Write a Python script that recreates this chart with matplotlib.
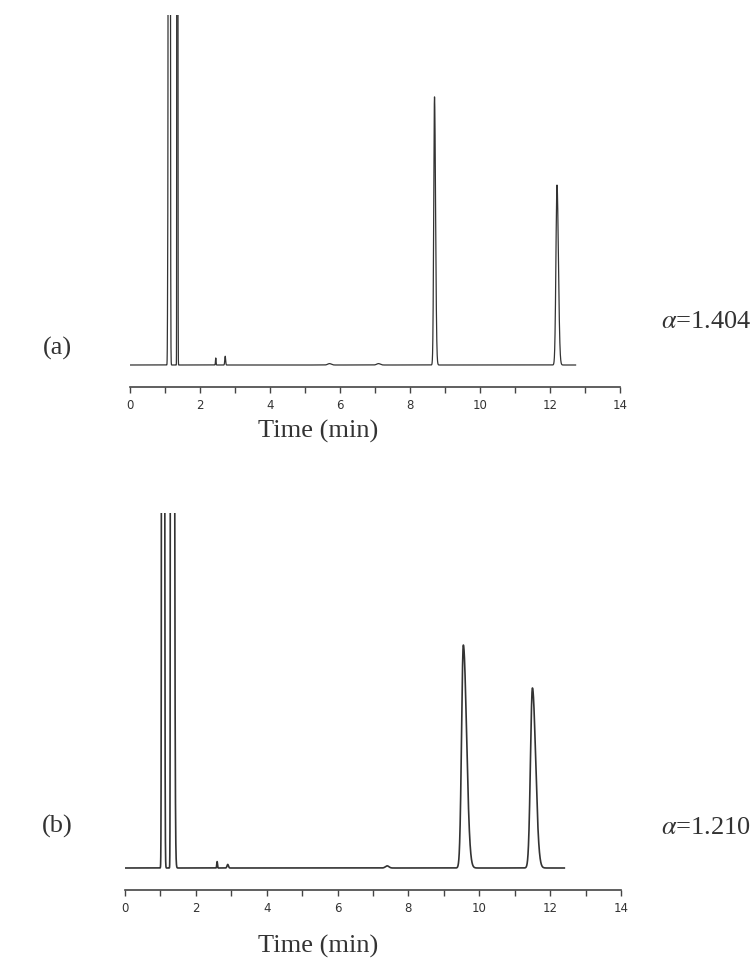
import numpy as np
from matplotlib import pyplot as plt

plt.rcParams['font.family'] = 'Liberation Serif'
plt.rcParams['mathtext.fontset'] = 'stix'

# peak table (a): retention time (min), height, left / right width
rt_a = [1.08, 1.12, 1.35, 2.45, 2.72, 5.70, 7.10, 8.70, 12.20]
h_a = [0.27, 40.0, 40.0, 0.020, 0.025, 0.004, 0.004, 0.766, 0.514]
wl_a = [0.008, 0.012, 0.006, 0.008, 0.012, 0.05, 0.05, 0.022, 0.030]
wr_a = [0.020, 0.014, 0.008, 0.008, 0.012, 0.05, 0.05, 0.030, 0.040]
end_a = 12.73

# peak table (b)
rt_b = [1.07, 1.31, 2.60, 2.90, 7.40, 9.55, 11.50]
h_b = [40.0, 40.0, 0.018, 0.010, 0.006, 0.628, 0.507]
wl_b = [0.016, 0.012, 0.010, 0.020, 0.05, 0.050, 0.055]
wr_b = [0.020, 0.035, 0.010, 0.020, 0.05, 0.090, 0.090]
end_b = 12.40

labels = ['(a)', '(b)']
alphas = ['1.404', '1.210']


def trace(t, rt, h, wl, wr):
    y = np.zeros_like(t)
    for c, hh, a, b in zip(rt, h, wl, wr):
        s = np.where(t < c, a, b)
        y += hh * np.exp(-0.5 * ((t - c) / s) ** 2)
    return y


fig = plt.figure(figsize=(7.55, 9.61), dpi=100)
W, H = 755, 961

# axes boxes in pixels: left, top, right, bottom, baseline
boxes = [(130, 15, 620, 370, 365), (125, 513, 621, 873, 868)]
tables = [(rt_a, h_a, wl_a, wr_a, end_a), (rt_b, h_b, wl_b, wr_b, end_b)]
lws = [0.9, 1.2]
text_y = [(348, 322, 431), (826, 828, 946)]

for i in range(2):
    l, t, r, b, base = boxes[i]
    ax = fig.add_axes([l / W, 1 - b / H, (r - l) / W, (b - t) / H])
    rt, h, wl, wr, end = tables[i]
    x = np.linspace(0, end, 20000)
    ax.plot(x, trace(x, rt, h, wl, wr), color='#333333', lw=lws[i])
    ax.set_xlim(0, 14)
    ax.set_ylim(-(b - base) / (base - t), 1)
    for s in ['left', 'right', 'top']:
        ax.spines[s].set_visible(False)
    ax.spines['bottom'].set_position(('outward', 12.2))
    ax.spines['bottom'].set_color('#444444')
    ax.spines['bottom'].set_linewidth(1.2)
    ax.set_yticks([])
    ax.set_xticks(range(0, 15, 2))
    ax.set_xticks(range(0, 15), minor=True)
    ax.tick_params(which='both', direction='out', length=4, width=1,
                   color='#444444', labelsize=8.5, labelcolor='#333333',
                   labelfontfamily='DejaVu Sans', pad=5)
    ly, ay, ty = text_y[i]
    fig.text(57 / W, 1 - ly / H, labels[i], ha='center', va='center',
             fontsize=19, color='#333333')
    fig.text(706 / W, 1 - ay / H, r'$\alpha$=' + alphas[i], ha='center',
             va='center', fontsize=19, color='#333333')
    fig.text(318 / W, 1 - ty / H, 'Time (min)', ha='center', va='center',
             fontsize=19, color='#333333')

plt.savefig('out.png', dpi=100)
